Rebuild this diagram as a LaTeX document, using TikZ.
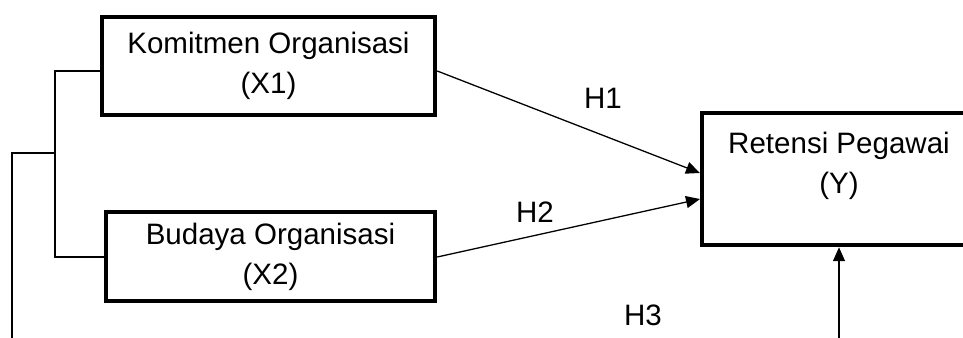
\documentclass[tikz,border=0pt]{standalone}
\usepackage{fontspec}
\setmainfont{Liberation Sans}
\usetikzlibrary{positioning,arrows.meta}

\begin{document}
\begin{tikzpicture}[x=0.03cm, y=-0.03cm,
      var/.style={rectangle, draw, line width=3.8pt, align=center, font=\fontsize{25.2}{34}\selectfont},
      hyp/.style={font=\fontsize{25.2}{34}\selectfont},
      link/.style={line width=1.1pt},
      arr/.style={link, -{Triangle[length=0.42cm, width=0.36cm]}}]
      \useasboundingbox (0,0) rectangle (963,337);
      \clip (0,0) rectangle (963,337);
      % variables
      \node [var, minimum width=9.99cm, minimum height=2.94cm] (x1) at (268.5, 66.0) {Komitmen Organisasi\\(X1)};
      \node [var, minimum width=9.87cm, minimum height=2.67cm] (x2) at (270.5,256.5) {Budaya Organisasi\\(X2)};
      \node [var, minimum width=8.22cm, minimum height=3.96cm,
             label={[hyp, align=center, yshift=0.39cm]center:Retensi Pegawai\\(Y)}] (y) at (839.0,179.0) {};
      % hypotheses
      \node [hyp] (h1) at (603, 98) {H1};
      \node [hyp] (h2) at (535,212) {H2};
      \node [hyp] (h3) at (643,315) {H3};
      % bracket
      \coordinate (b1) at ( 55, 71);
      \coordinate (b2) at ( 55,257);
      \coordinate (bm) at ( 55,153);
      \coordinate (bl) at ( 12,153);
      \coordinate (bb) at ( 12,340);
      \coordinate (y1) at (700,173);
      \coordinate (y2) at (700,199);
      \coordinate (yb) at (839,340);
      \draw [link] (x1.west |- b1) -- (b1) -- (b2) -- (x2.west |- b2);
      \draw [link] (bm) -- (bl) -- (bb);
      \draw [arr] (x1.east |- b1) -- (y1);
      \draw [arr] (x2.east |- b2) -- (y2);
      \draw [arr] (yb) -- (y.south);
\end{tikzpicture}
\end{document}
